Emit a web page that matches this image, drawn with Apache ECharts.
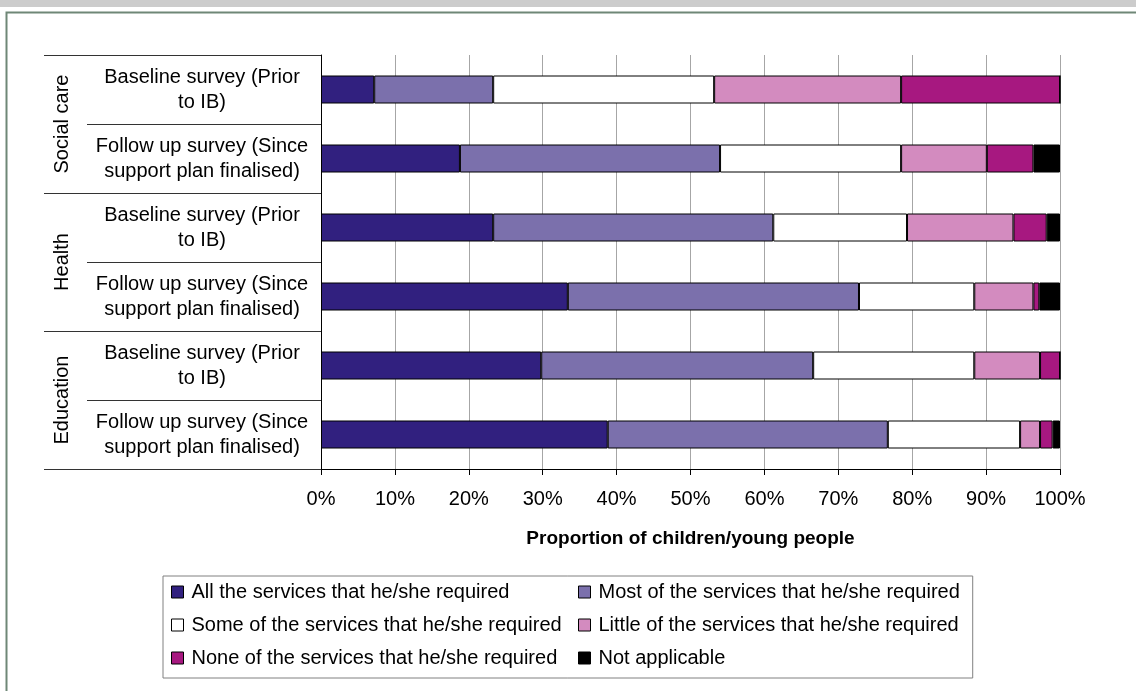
<!DOCTYPE html>
<html>
<head>
<meta charset="utf-8">
<script src="https://cdn.jsdelivr.net/npm/echarts@6/dist/echarts.min.js"></script>
<style>
  html, body { margin: 0; padding: 0; background: #fff; }
  #chart { width: 1136px; height: 691px; }
</style>
</head>
<body>
<div id="chart"></div>
<script>
// rows, top to bottom
const categories = [
  "Baseline survey (Prior\nto IB)",
  "Follow up survey (Since\nsupport plan finalised)",
  "Baseline survey (Prior\nto IB)",
  "Follow up survey (Since\nsupport plan finalised)",
  "Baseline survey (Prior\nto IB)",
  "Follow up survey (Since\nsupport plan finalised)"
];
const groups = ["Social care", "Health", "Education"];

const seriesNames = [
  "All the services that he/she required",
  "Most of the services that he/she required",
  "Some of the services that he/she required",
  "Little of the services that he/she required",
  "None of the services that he/she required",
  "Not applicable"
];
const seriesColors = ["#31207f", "#7b70ac", "#ffffff", "#d38bbf", "#a71880", "#000000"];

// percentages per row
const allServices = [7.2, 18.8, 23.3, 33.4, 29.8, 38.8];
const mostServices = [16.1, 35.2, 37.9, 39.4, 36.8, 37.9];
const someServices = [29.9, 24.5, 18.1, 15.6, 21.8, 17.9];
const littleServices = [25.3, 11.6, 14.4, 8.0, 8.9, 2.7];
const noneServices = [21.5, 6.3, 4.5, 0.8, 2.7, 1.7];
const notApplicable = [0, 3.6, 1.8, 2.8, 0, 1.0];

const seriesValues = [allServices, mostServices, someServices, littleServices, noneServices, notApplicable];

const font = '"Liberation Sans", Arial, sans-serif';

let chartDom = document.getElementById("chart");
let myChart = echarts.init(chartDom, null, { renderer: "canvas" });

let option = {
  animation: false,
  textStyle: { fontFamily: font },
  graphic: [
    // cut-off banner at top
    { type: "rect", left: 0, top: 0, shape: { width: 1136, height: 7 }, style: { fill: "#cccccc" }, silent: true },
    // outer frame
    {
      type: "rect", left: 4, top: 10,
      shape: { x: 0, y: 0, width: 1200, height: 760 },
      style: { fill: "none", stroke: "#6f8777", lineWidth: 2 },
      silent: true
    }
  ],
  grid: { left: 321, right: 76, top: 55, bottom: 222 },
  legend: [
    {
      data: [seriesNames[0], seriesNames[2], seriesNames[4]],
      orient: "vertical",
      left: 163,
      top: 576,
      padding: [6, 411, 10, 8],
      itemGap: 13,
      itemWidth: 12,
      itemHeight: 12,
      icon: "rect",
      borderColor: "#808080",
      borderWidth: 1,
      itemStyle: { borderColor: "#000", borderWidth: 1 },
      textStyle: { fontFamily: font, fontSize: 20, color: "#000", lineHeight: 20, padding: [0, 0, 0, 3] }
    },
    {
      data: [seriesNames[1], seriesNames[3], seriesNames[5]],
      orient: "vertical",
      left: 578,
      top: 582,
      padding: 0,
      itemGap: 13,
      itemWidth: 12,
      itemHeight: 12,
      icon: "rect",
      itemStyle: { borderColor: "#000", borderWidth: 1 },
      textStyle: { fontFamily: font, fontSize: 20, color: "#000", lineHeight: 20, padding: [0, 0, 0, 3] }
    }
  ],
  xAxis: {
    type: "value",
    min: 0,
    max: 100,
    interval: 10,
    name: "Proportion of children/young people",
    nameLocation: "middle",
    nameGap: 60,
    nameTextStyle: { fontFamily: font, fontSize: 19, fontWeight: "bold", color: "#000" },
    axisLine: { show: true, lineStyle: { color: "#000", width: 1 } },
    axisTick: { show: true, length: 6, lineStyle: { color: "#000" } },
    axisLabel: { formatter: "{value}%", fontFamily: font, fontSize: 20, color: "#000", margin: 20 },
    splitLine: { show: true, lineStyle: { color: "#a6a6a6", width: 1 } }
  },
  yAxis: [
    {
      type: "category",
      inverse: true,
      data: categories,
      axisLine: { show: true, lineStyle: { color: "#000", width: 1 } },
      axisTick: { show: true, length: 234, lineStyle: { color: "#333" } },
      axisLabel: {
        fontFamily: font, fontSize: 20, color: "#000",
        align: "center", margin: 119, lineHeight: 25
      }
    },
    {
      type: "category",
      inverse: true,
      position: "left",
      data: groups,
      axisLine: { show: false },
      axisTick: { show: true, length: 277, lineStyle: { color: "#333" } },
      axisLabel: { fontFamily: font, fontSize: 20, color: "#000", rotate: 90, margin: 249 }
    }
  ],
  series: seriesNames.map((name, i) => ({
    name: name,
    type: "bar",
    stack: "total",
    yAxisIndex: 0,
    barWidth: 28,
    itemStyle: { color: seriesColors[i], borderColor: "#000", borderWidth: 1 },
    data: seriesValues[i]
  }))
};

option && myChart.setOption(option);
</script>
</body>
</html>
